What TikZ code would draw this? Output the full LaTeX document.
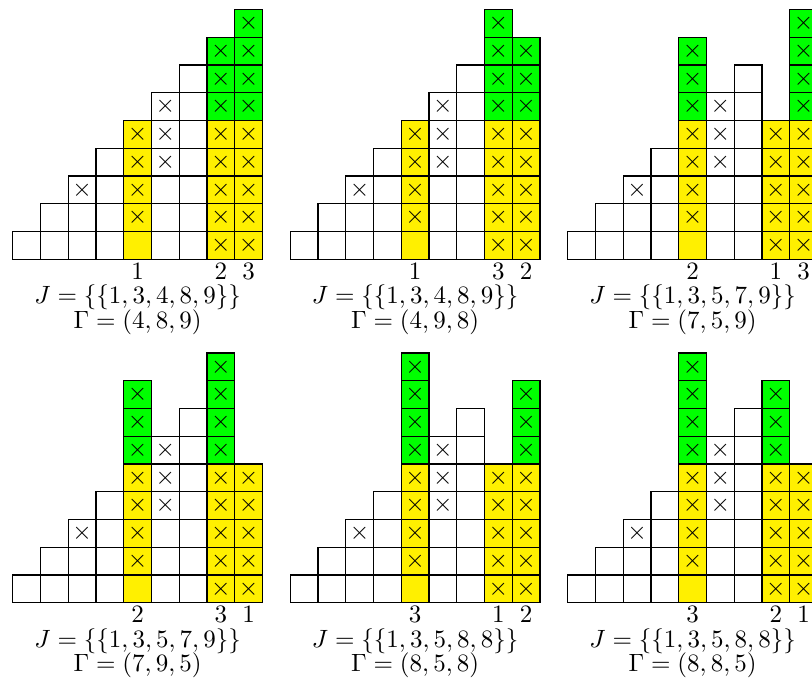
\documentclass[tikz,border=0pt]{standalone}
\definecolor{ylw}{RGB}{255,240,0}
\definecolor{grn}{RGB}{0,255,0}
\tikzset{
  cellbox/.style={draw=black, line width=0.5pt},
  xmark/.style={inner sep=0pt},
  lbl/.style={anchor=base, inner sep=0pt}
}
\newcommand\basepanel[1]{%
  \foreach \k in {1,...,4}{\foreach \r in {1,...,\k}{\draw[cellbox] (\k-1,\r-1) rectangle (\k,\r);}}
  \foreach \r in {1,...,6}{\draw[cellbox] (5,\r-1) rectangle (6,\r);}
  \foreach \r in {1,...,7}{\draw[cellbox] (6,\r-1) rectangle (7,\r);}
  \node[xmark] (#1-c3-3) at (2.5,2.5) {$\times$};
  \foreach \r in {4,5,6}{\node[xmark] (#1-c6-\r) at (5.5,\r-0.5) {$\times$};}
}
\newcommand\spcol[4]{%
  \foreach \r in {1,...,5}{\draw[cellbox,fill=ylw] (#2-1,\r-1) rectangle (#2,\r);}
  \ifnum#3>5 \foreach \r in {6,...,#3}{\draw[cellbox,fill=grn] (#2-1,\r-1) rectangle (#2,\r);}\fi
  \foreach \r in {#4,...,#3}{\node[xmark] (#1-c#2-\r) at (#2-0.5,\r-0.5) {$\times$};}
}
\newcommand\collabel[3]{\node[lbl] (#1-l#2) at (#2-0.5,-0.72) {$#3$};}
\newcommand\paneltext[3]{%
  \node[lbl] (#1-J) at (4.5,-1.61) {$J=\{\{#2\}\}$};
  \node[lbl] (#1-G) at (4.5,-2.48) {$\Gamma=(#3)$};
}
\begin{document}
\begin{tikzpicture}[x=0.4pt,y=-0.4pt]
\useasboundingbox (0,0) rectangle (812,686);
\clip (0,0) rectangle (812,686);
% panel 1
\begin{scope}[shift={(12.7,259.3)},x=11.1pt,y=11.1pt]
  \basepanel{pa}
  \spcol{pa}{5}{5}{2}\spcol{pa}{8}{8}{1}\spcol{pa}{9}{9}{1}
  \collabel{pa}{5}{1}\collabel{pa}{8}{2}\collabel{pa}{9}{3}
  \paneltext{pa}{1,3,4,8,9}{4,8,9}
\end{scope}
% panel 2
\begin{scope}[shift={(290.2,259.3)},x=11.1pt,y=11.1pt]
  \basepanel{pb}
  \spcol{pb}{5}{5}{2}\spcol{pb}{8}{9}{1}\spcol{pb}{9}{8}{1}
  \collabel{pb}{5}{1}\collabel{pb}{8}{3}\collabel{pb}{9}{2}
  \paneltext{pb}{1,3,4,8,9}{4,9,8}
\end{scope}
% panel 3
\begin{scope}[shift={(567.7,259.3)},x=11.1pt,y=11.1pt]
  \basepanel{pc}
  \spcol{pc}{5}{8}{2}\spcol{pc}{8}{5}{1}\spcol{pc}{9}{9}{1}
  \collabel{pc}{5}{2}\collabel{pc}{8}{1}\collabel{pc}{9}{3}
  \paneltext{pc}{1,3,5,7,9}{7,5,9}
\end{scope}
% panel 4
\begin{scope}[shift={(12.7,602.7)},x=11.1pt,y=11.1pt]
  \basepanel{pd}
  \spcol{pd}{5}{8}{2}\spcol{pd}{8}{9}{1}\spcol{pd}{9}{5}{1}
  \collabel{pd}{5}{2}\collabel{pd}{8}{3}\collabel{pd}{9}{1}
  \paneltext{pd}{1,3,5,7,9}{7,9,5}
\end{scope}
% panel 5
\begin{scope}[shift={(290.2,602.7)},x=11.1pt,y=11.1pt]
  \basepanel{pe}
  \spcol{pe}{5}{9}{2}\spcol{pe}{8}{5}{1}\spcol{pe}{9}{8}{1}
  \collabel{pe}{5}{3}\collabel{pe}{8}{1}\collabel{pe}{9}{2}
  \paneltext{pe}{1,3,5,8,8}{8,5,8}
\end{scope}
% panel 6
\begin{scope}[shift={(567.7,602.7)},x=11.1pt,y=11.1pt]
  \basepanel{pf}
  \spcol{pf}{5}{9}{2}\spcol{pf}{8}{8}{1}\spcol{pf}{9}{5}{1}
  \collabel{pf}{5}{3}\collabel{pf}{8}{2}\collabel{pf}{9}{1}
  \paneltext{pf}{1,3,5,8,8}{8,8,5}
\end{scope}
\end{tikzpicture}
\end{document}
